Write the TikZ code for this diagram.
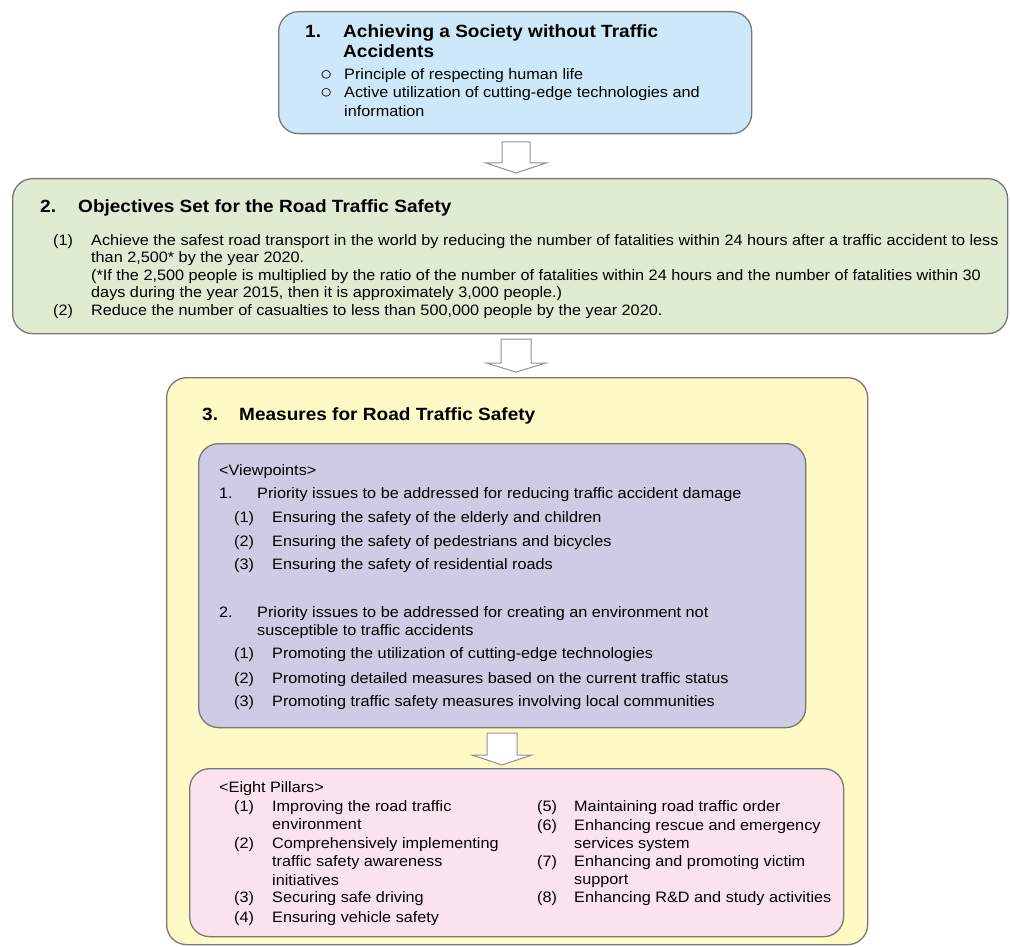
\documentclass[tikz,border=0pt]{standalone}
\usepackage{fontspec}
\setmainfont[FakeStretch=1.075]{Liberation Sans}
\definecolor{bluefill}{RGB}{205,233,249}
\definecolor{greenfill}{RGB}{224,236,209}
\definecolor{yellowfill}{RGB}{255,249,198}
\definecolor{purplefill}{RGB}{205,204,229}
\definecolor{pinkfill}{RGB}{251,227,238}
\definecolor{edge}{RGB}{120,120,120}
\tikzset{
  panel/.style={draw=edge, line width=1.3pt, rounded corners=20pt, anchor=north west, inner sep=0pt},
  body/.style={anchor=base west, inner sep=0pt, align=left, font=\fontsize{15.1}{17.5}\selectfont},
  bodyb/.style={body, font=\fontsize{15.1}{18.5}\selectfont},
  bullet/.style={anchor=base west, inner sep=0pt, font=\fontsize{19}{19}\selectfont},
  title/.style={anchor=base west, inner sep=0pt, align=left, font=\fontsize{17.7}{20}\selectfont\bfseries},
  blockarrow/.style={draw=edge!80, fill=white, line width=1pt, line join=miter}
}
% multi-line nodes: the y given is the baseline of the LAST line
\newcommand\downblock[6]{% name, cx, top, head, tip, half shaft
  \coordinate (#1) at (#2,#3);
  \draw[blockarrow] (#2-#6,#3) -- (#2+#6,#3) -- (#2+#6,#4) -- (#2+30,#4) -- (#2,#5)
     -- (#2-30,#4) -- (#2-#6,#4) -- cycle;}
\begin{document}
\begin{tikzpicture}[x=1pt,y=-1pt]
\useasboundingbox (0,0) rectangle (1010,947);

% ---------- Box 1 ----------
\node[panel, fill=bluefill, minimum width=473pt, minimum height=122pt] (b1) at (278,11) {};
\node[title] (b1n) at (305,38) {1.};
\node[title] (b1t) at (343,58) {Achieving a Society without Traffic\\Accidents};
\node[bullet] (b1c1) at (320,81) {○};
\node[body] (b1i1) at (344,80) {Principle of respecting human life};
\node[bullet] (b1c2) at (320,99) {○};
\node[bodyb] (b1i2) at (344,116.5) {Active utilization of cutting-edge technologies and\\information};

\downblock{a1}{516}{142}{163}{173}{14}

% ---------- Box 2 ----------
\node[panel, fill=greenfill, minimum width=995pt, minimum height=155pt] (b2) at (12,178) {};
\node[title] (b2n) at (40,212) {2.};
\node[title] (b2t) at (78,212) {Objectives Set for the Road Traffic Safety};
\node[body] (b2l1) at (53,245) {(1)};
\node[body] (b2i1) at (91,297.5) {Achieve the safest road transport in the world by reducing the number of fatalities within 24 hours after a traffic accident to less\\than 2,500* by the year 2020.\\(*If the 2,500 people is multiplied by the ratio of the number of fatalities within 24 hours and the number of fatalities within 30\\days during the year 2015, then it is approximately 3,000 people.)};
\node[body] (b2l2) at (53,315) {(2)};
\node[body] (b2i2) at (91,315) {Reduce the number of casualties to less than 500,000 people by the year 2020.};

\downblock{a2}{516}{339}{363}{372}{15}

% ---------- Box 3 ----------
\node[panel, fill=yellowfill, minimum width=701pt, minimum height=567pt] (b3) at (166,377) {};
\node[title] (b3n) at (202,420) {3.};
\node[title] (b3t) at (239,420) {Measures for Road Traffic Safety};

% Viewpoints
\node[panel, fill=purplefill, minimum width=607pt, minimum height=284pt] (vp) at (198,443) {};
\node[body] (vph) at (219,475) {<Viewpoints>};
\node[body] (vp1n) at (219,498) {1.};
\node[body] (vp1t) at (257,498) {Priority issues to be addressed for reducing traffic accident damage};
\node[body] (vp11n) at (234,522) {(1)};
\node[body] (vp11t) at (272,522) {Ensuring the safety of the elderly and children};
\node[body] (vp12n) at (234,546) {(2)};
\node[body] (vp12t) at (272,546) {Ensuring the safety of pedestrians and bicycles};
\node[body] (vp13n) at (234,569) {(3)};
\node[body] (vp13t) at (272,569) {Ensuring the safety of residential roads};
\node[body] (vp2n) at (219,617) {2.};
\node[bodyb] (vp2t) at (257,635.5) {Priority issues to be addressed for creating an environment not\\susceptible to traffic accidents};
\node[body] (vp21n) at (234,658) {(1)};
\node[body] (vp21t) at (272,658) {Promoting the utilization of cutting-edge technologies};
\node[body] (vp22n) at (234,683) {(2)};
\node[body] (vp22t) at (272,683) {Promoting detailed measures based on the current traffic status};
\node[body] (vp23n) at (234,706) {(3)};
\node[body] (vp23t) at (272,706) {Promoting traffic safety measures involving local communities};

\downblock{a3}{502}{733}{755}{765}{15}

% Eight pillars
\node[panel, fill=pinkfill, minimum width=654pt, minimum height=168pt] (ep) at (189,768) {};
\node[body] (eph) at (219,792) {<Eight Pillars>};
\node[body] (ep1n) at (234,811) {(1)};
\node[bodyb] (ep1t) at (272,829.5) {Improving the road traffic\\environment};
\node[body] (ep2n) at (234,848) {(2)};
\node[bodyb] (ep2t) at (272,885) {Comprehensively implementing\\traffic safety awareness\\initiatives};
\node[body] (ep3n) at (234,902) {(3)};
\node[body] (ep3t) at (272,902) {Securing safe driving};
\node[body] (ep4n) at (234,922) {(4)};
\node[body] (ep4t) at (272,922) {Ensuring vehicle safety};
\node[body] (ep5n) at (537,811) {(5)};
\node[body] (ep5t) at (574,811) {Maintaining road traffic order};
\node[body] (ep6n) at (537,830) {(6)};
\node[bodyb] (ep6t) at (574,848.5) {Enhancing rescue and emergency\\services system};
\node[body] (ep7n) at (537,866) {(7)};
\node[bodyb] (ep7t) at (574,884.5) {Enhancing and promoting victim\\support};
\node[body] (ep8n) at (537,902) {(8)};
\node[body] (ep8t) at (574,902) {Enhancing R\&D and study activities};
\end{tikzpicture}
\end{document}
